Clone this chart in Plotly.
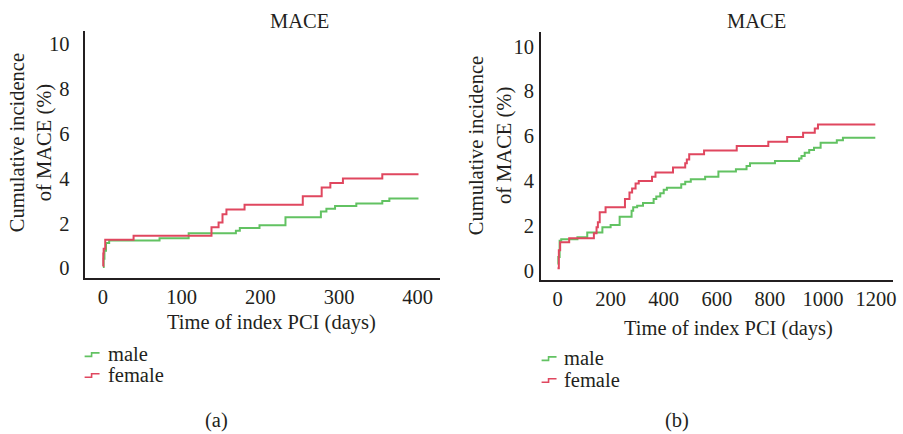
import plotly.graph_objects as go

# ---- data ----
days_male_a = [0, 1, 2, 4, 8, 72, 109, 169, 174, 199, 232, 277, 284, 295, 322, 355, 364, 401]
inc_male_a = [0.05, 0.42, 0.78, 1.12, 1.23, 1.33, 1.56, 1.67, 1.79, 1.92, 2.27, 2.53, 2.65, 2.77, 2.89, 3.0, 3.11, 3.11]

days_female_a = [0, 0.5, 1, 3, 39, 138, 147, 152, 157, 180, 254, 278, 289, 305, 355, 401]
inc_female_a = [0.1, 0.65, 0.87, 1.27, 1.45, 1.83, 2.04, 2.41, 2.62, 2.83, 3.21, 3.6, 3.8, 4.0, 4.19, 4.19]

days_male_b = [0, 3, 8, 14, 75, 112, 169, 200, 234, 279, 285, 300, 322, 362, 372, 387, 400, 412,
               466, 481, 502, 556, 606, 672, 712, 725, 819, 910, 919, 931, 948, 966, 991, 1052, 1075, 1197]
inc_male_b = [0.3, 0.6, 1.33, 1.4, 1.48, 1.7, 1.93, 2.03, 2.4, 2.67, 2.82, 2.89, 3.01, 3.19, 3.3, 3.45, 3.6, 3.7,
              3.85, 3.96, 4.07, 4.19, 4.42, 4.52, 4.67, 4.79, 4.89, 5.0, 5.11, 5.26, 5.38, 5.48, 5.7, 5.82, 5.93, 5.93]

days_female_b = [0, 5, 10, 44, 137, 147, 152, 159, 181, 254, 271, 281, 294, 306, 356, 369, 435, 481, 487,
                 496, 552, 675, 794, 865, 925, 969, 981, 1197]
inc_female_b = [0.1, 0.9, 1.26, 1.44, 1.66, 1.93, 2.15, 2.6, 2.82, 3.19, 3.48, 3.66, 3.88, 4.0, 4.19, 4.37, 4.6, 4.79, 4.96,
                5.19, 5.36, 5.56, 5.75, 5.96, 6.15, 6.34, 6.52, 6.52]

y_ticks = [0, 2, 4, 6, 8, 10]
x_ticks_a = [0, 100, 200, 300, 400]
x_ticks_b = [0, 200, 400, 600, 800, 1000, 1200]
series_names = ["male", "female"]
panel_labels = ["(a)", "(b)"]
panel_title = "MACE"
x_title = "Time of index PCI (days)"
y_title_lines = ["Cumulative incidence", "of MACE (%)"]

# ---- style ----
W, H = 903, 434
GREEN = "#62c262"
RED = "#e0475f"
TXT = "#231f20"
FONT = "Liberation Serif"
FS = 20.5

def px(x):
    return x / W

def py(y):
    return 1 - y / H

fig = go.Figure()
fig.add_trace(go.Scatter(x=days_male_a, y=inc_male_a, mode="lines", line=dict(shape="hv", color=GREEN, width=2),
                         name=series_names[0], xaxis="x", yaxis="y", showlegend=False))
fig.add_trace(go.Scatter(x=days_female_a, y=inc_female_a, mode="lines", line=dict(shape="hv", color=RED, width=2),
                         name=series_names[1], xaxis="x", yaxis="y", showlegend=False))
fig.add_trace(go.Scatter(x=days_male_b, y=inc_male_b, mode="lines", line=dict(shape="hv", color=GREEN, width=2),
                         name=series_names[0], xaxis="x2", yaxis="y2", showlegend=False))
fig.add_trace(go.Scatter(x=days_female_b, y=inc_female_b, mode="lines", line=dict(shape="hv", color=RED, width=2),
                         name=series_names[1], xaxis="x2", yaxis="y2", showlegend=False))

axis_common = dict(showline=True, linecolor=TXT, linewidth=1.5, showgrid=False, zeroline=False,
                   ticks="", tickfont=dict(family=FONT, size=FS, color=TXT))

fig.update_layout(
    width=W, height=H,
    margin=dict(l=0, r=0, t=0, b=0),
    paper_bgcolor="white", plot_bgcolor="white",
    font=dict(family=FONT, size=FS, color=TXT),
    xaxis=dict(domain=[px(85.7), px(441.7)], range=[-22.3, 428], tickvals=x_ticks_a, anchor="y",
               ticklabelstandoff=0, **axis_common),
    yaxis=dict(domain=[py(279.3), py(31)], range=[-0.44, 10.59], tickvals=y_ticks, anchor="x",
               ticklabelstandoff=10, **axis_common),
    xaxis2=dict(domain=[px(543.3), px(896.7)], range=[-62.6, 1262.6], tickvals=x_ticks_b, anchor="y2",
                ticklabelstandoff=0, **axis_common),
    yaxis2=dict(domain=[py(281), py(32.3)], range=[-0.41, 10.64], tickvals=y_ticks, anchor="x2",
                ticklabelstandoff=1, **axis_common),
)

ann = []
def text(t, x, y, angle=0):
    ann.append(dict(text=t, x=px(x), y=py(y), xref="paper", yref="paper", showarrow=False,
                    xanchor="center", yanchor="middle", textangle=angle,
                    font=dict(family=FONT, size=FS, color=TXT)))

def ltext(t, x, y):
    ann.append(dict(text=t, x=px(x), y=py(y), xref="paper", yref="paper", showarrow=False,
                    xanchor="left", yanchor="middle", font=dict(family=FONT, size=FS, color=TXT)))

# titles
text(panel_title, 301, 21)
text(panel_title, 760, 21)
# x titles
text(x_title, 273, 324)
text(x_title, 732, 330)
# y titles
text(y_title_lines[0], 17, 143, -90)
text(y_title_lines[1], 45, 143, -90)
text(y_title_lines[0], 478, 146, -90)
text(y_title_lines[1], 507, 146, -90)
# panel labels
text(panel_labels[0], 217, 422)
text(panel_labels[1], 680, 422)

# legends (text + small step icons)
shapes = []
def legend_item(x0, yc, color, label):
    path = "M {} {} L {} {} L {} {} L {} {}".format(
        px(x0), py(yc + 2), px(x0 + 7), py(yc + 2), px(x0 + 7), py(yc - 1.5), px(x0 + 15), py(yc - 1.5))
    shapes.append(dict(type="path", path=path, xref="paper", yref="paper",
                       line=dict(color=color, width=1.6)))
    ltext(label, x0 + 21, yc)

legend_item(85, 356, GREEN, series_names[0])
legend_item(85, 377, RED, series_names[1])
legend_item(544, 360, GREEN, series_names[0])
legend_item(544, 382, RED, series_names[1])

fig.update_layout(annotations=ann, shapes=shapes)
fig.write_html("out.html", config={"displayModeBar": False},
               post_script="document.body.style.margin='0';document.body.style.overflow='hidden';")
